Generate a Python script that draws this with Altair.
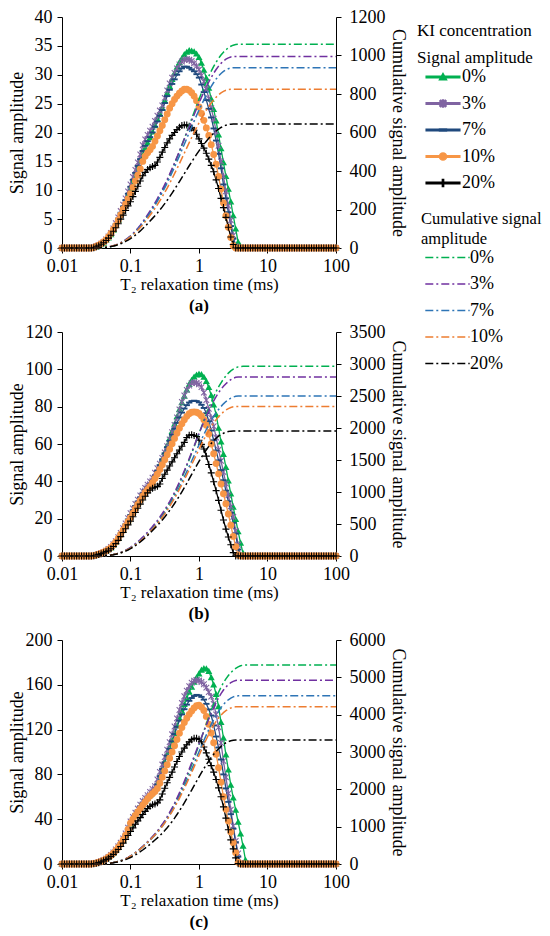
import altair as alt
import pandas as pd

FONT = "Liberation Serif"

# ---------------- categories / colours ----------------
CONCS = ["0%", "3%", "7%", "10%", "20%"]
SIG_COLORS = ["#00B050", "#8064A2", "#1F497D", "#F79646", "#000000"]
CUM_KEYS = ["C0%", "C3%", "C7%", "C10%", "C20%"]
CUM_COLORS = ["#00B050", "#7030A0", "#2E75B6", "#ED7D31", "#000000"]

# T2 sampling grid of the inversion (log spaced, 28 points per decade, 0.01-100 ms)
N_POINTS = 113
T2 = [10 ** (-2 + i / 28) for i in range(N_POINTS)]
FIRST = 13  # index of the first listed (non-zero) value; all earlier points are 0

# ---------------- panel (a) signal amplitudes ----------------
A_0 = [0.1, 0.2, 0.4, 0.6, 0.85, 1.3, 1.75, 2.3, 3.1, 3.9, 4.8, 5.9, 7.0, 8.1, 9.2,
       10.3, 11.5, 12.6, 13.8, 15.1, 16.4, 17.3, 18.2, 19.1, 20.1, 21.2, 22.3, 23.2, 24.2, 25.5,
       26.8, 28.0, 29.2, 30.3, 31.3, 32.1, 32.8, 33.5, 33.9, 34.2, 34.1, 34.0, 33.6, 33.0, 32.0,
       30.8, 29.4, 27.7, 25.8, 24.0, 22.0, 19.6, 17.2, 14.8, 12.4, 10.2, 8.0, 5.6, 3.3, 1.0]
A_3 = [0.1, 0.3, 0.5, 0.75, 1.05, 1.5, 2.0, 2.6, 3.4, 4.3, 5.3, 6.4, 7.5, 8.6, 9.8,
       11.0, 12.3, 13.5, 14.8, 16.2, 17.8, 18.8, 19.6, 20.3, 21.0, 22.0, 22.9, 23.8, 24.7, 26.0,
       27.3, 28.5, 29.5, 30.3, 31.1, 31.8, 32.3, 32.6, 32.7, 32.6, 32.4, 32.0, 31.5, 30.9, 29.9,
       28.8, 27.5, 25.9, 24.2, 22.4, 20.2, 17.7, 15.0, 12.4, 9.8, 7.3, 4.8, 2.2, 0.3]
A_7 = [0.1, 0.3, 0.5, 0.7, 1.0, 1.4, 1.9, 2.5, 3.3, 4.1, 5.1, 6.1, 7.2, 8.3, 9.4,
       10.6, 11.8, 13.0, 14.2, 15.4, 16.8, 17.7, 18.5, 19.2, 20.0, 21.0, 21.9, 22.9, 23.9, 25.1,
       26.3, 27.4, 28.4, 29.2, 30.0, 30.6, 31.1, 31.4, 31.4, 31.2, 30.9, 30.6, 30.1, 29.5, 28.3,
       27.0, 25.6, 24.1, 22.6, 20.7, 18.6, 16.3, 13.8, 11.0, 8.6, 6.2, 3.8, 1.6, 0.2]
A_10 = [0.1, 0.3, 0.5, 0.75, 1.05, 1.4, 1.9, 2.5, 3.2, 3.9, 4.8, 5.7, 6.7, 7.6, 8.5,
        9.4, 10.5, 11.6, 12.6, 13.7, 15.0, 15.9, 16.5, 17.0, 17.6, 18.5, 19.4, 20.3, 21.2, 22.2,
        23.2, 24.2, 25.0, 25.7, 26.3, 26.8, 27.2, 27.5, 27.5, 27.3, 26.9, 26.3, 25.5, 24.4, 23.3,
        22.1, 20.8, 19.5, 17.9, 16.2, 14.5, 12.4, 10.2, 7.8, 5.6, 3.6, 1.8, 0.4]
A_20 = [0.05, 0.2, 0.4, 0.65, 0.9, 1.3, 1.7, 2.2, 2.9, 3.5, 4.2, 5.0, 5.7, 6.5, 7.3,
        8.0, 8.9, 9.8, 10.7, 11.6, 12.5, 13.1, 13.6, 13.9, 14.1, 14.3, 14.9, 15.7, 16.6, 17.4,
        18.2, 18.9, 19.5, 20.0, 20.5, 20.9, 21.2, 21.3, 21.3, 21.1, 20.8, 20.4, 19.7, 18.9, 18.1,
        17.3, 16.4, 15.4, 14.3, 13.2, 11.8, 10.3, 8.6, 7.0, 5.3, 3.6, 1.9, 0.6]
PLATEAU_A = [1058, 995, 937, 825, 644]

# ---------------- panel (b) signal amplitudes ----------------
B_0 = [0.2, 0.5, 0.9, 1.4, 2.0, 2.7, 3.5, 4.4, 5.9, 7.5, 9.5, 11.7, 14.1, 16.5, 19.0,
       21.4, 23.8, 26.1, 28.4, 30.7, 33.0, 34.8, 36.5, 38.3, 40.3, 43.0, 45.8, 48.7, 52.0, 55.5,
       59.2, 63.0, 66.8, 70.6, 74.6, 78.6, 82.2, 85.7, 89.0, 92.0, 94.2, 95.9, 97.0, 97.5, 97.2,
       95.8, 93.5, 90.3, 86.0, 81.0, 75.7, 68.5, 61.2, 54.5, 47.5, 40.3, 33.3, 26.2, 19.6, 13.0,
       6.9, 1.5]
B_3 = [0.2, 0.6, 1.0, 1.5, 2.1, 2.9, 3.8, 4.8, 6.3, 8.0, 10.1, 12.3, 14.9, 17.5, 20.3,
       23.0, 25.5, 27.9, 30.2, 32.5, 34.7, 36.5, 38.2, 40.0, 42.0, 44.6, 47.0, 49.5, 52.5, 55.5,
       58.8, 62.5, 66.3, 70.2, 74.2, 78.5, 82.5, 86.0, 89.0, 91.3, 92.7, 93.0, 92.7, 92.0, 90.5,
       87.5, 83.5, 78.8, 74.0, 69.5, 63.5, 57.0, 51.0, 45.0, 38.8, 32.5, 26.6, 21.0, 13.5, 6.0,
       0.3]
B_7 = [0.2, 0.6, 1.0, 1.5, 2.1, 2.8, 3.7, 4.7, 6.1, 7.8, 9.8, 12.0, 14.5, 17.0, 19.6,
       22.0, 24.4, 26.8, 29.1, 31.3, 33.5, 35.2, 36.7, 38.3, 40.2, 42.8, 45.6, 48.7, 51.8, 55.0,
       58.3, 61.7, 65.0, 68.2, 71.3, 74.2, 76.8, 79.0, 80.8, 82.2, 83.0, 83.2, 83.0, 82.3, 81.0,
       79.3, 76.5, 72.2, 67.2, 62.0, 56.5, 51.2, 46.0, 40.6, 35.0, 29.3, 23.2, 17.8, 12.0, 3.5]
B_10 = [0.2, 0.6, 1.0, 1.5, 2.0, 2.7, 3.5, 4.5, 5.9, 7.5, 9.4, 11.5, 13.8, 16.1, 18.4,
        20.5, 22.9, 25.3, 27.6, 29.8, 32.0, 34.0, 35.6, 37.3, 39.2, 41.5, 43.8, 46.3, 48.9, 51.6,
        54.3, 57.2, 60.1, 63.0, 65.8, 68.5, 70.9, 73.0, 74.8, 76.2, 77.0, 77.2, 77.0, 76.3, 75.0,
        73.0, 70.0, 65.3, 60.0, 54.8, 49.5, 44.0, 38.6, 33.3, 28.0, 22.5, 16.5, 10.5, 5.0, 0.5]
B_20 = [0.15, 0.5, 0.85, 1.25, 1.75, 2.35, 3.1, 3.9, 5.1, 6.6, 8.4, 10.4, 12.6, 14.6, 16.7,
        18.7, 21.0, 23.3, 25.6, 27.8, 30.0, 32.0, 33.8, 35.3, 36.3, 36.8, 37.3, 38.6, 41.5, 43.8,
        46.0, 48.2, 50.4, 52.6, 54.8, 56.8, 58.8, 60.9, 63.5, 64.7, 65.0, 64.6, 64.0, 62.0, 59.8,
        57.3, 53.5, 49.0, 44.5, 39.8, 35.0, 29.8, 24.5, 19.3, 14.4, 10.2, 6.0, 1.8]
PLATEAU_B = [2964, 2798, 2500, 2337, 1953]

# ---------------- panel (c) signal amplitudes ----------------
C_0 = [0.4, 0.9, 1.6, 2.4, 3.4, 4.6, 6.1, 7.8, 9.9, 12.3, 15.0, 18.1, 21.7, 25.8, 30.6,
       35.8, 40.0, 43.8, 47.4, 50.8, 53.9, 56.6, 59.1, 61.7, 64.2, 66.6, 71.5, 77.8, 84.2, 90.7,
       97.1, 103.5, 110.0, 116.6, 123.3, 130.0, 136.5, 142.5, 148.0, 153.5, 158.0, 162.3, 166.3, 169.8, 173.2,
       174.5, 174.3, 172.0, 166.5, 160.0, 151.5, 140.5, 126.5, 112.5, 97.5, 84.0, 70.5, 59.0, 48.0, 37.5,
       27.0, 16.0, 3.5]
C_3 = [0.4, 1.0, 1.7, 2.6, 3.6, 4.8, 6.4, 8.2, 10.4, 13.0, 15.8, 19.0, 22.8, 27.2, 32.5,
       38.0, 42.0, 45.8, 49.5, 53.0, 56.2, 59.0, 61.5, 64.3, 67.0, 69.5, 75.5, 82.3, 88.8, 95.5,
       102.0, 108.8, 115.8, 122.8, 130.0, 137.5, 143.8, 149.8, 154.8, 158.8, 161.8, 163.6, 164.3, 163.8, 162.5,
       160.5, 157.5, 153.5, 149.5, 143.0, 133.5, 122.0, 108.0, 92.0, 77.5, 63.0, 48.5, 34.0, 20.5, 9.5,
       1.0]
C_7 = [0.4, 0.9, 1.6, 2.5, 3.5, 4.7, 6.2, 8.0, 10.1, 12.6, 15.3, 18.4, 22.0, 26.2, 31.0,
       36.5, 40.5, 44.2, 47.8, 51.2, 54.3, 57.0, 59.3, 61.4, 63.2, 65.2, 71.0, 78.5, 84.8, 90.5,
       96.7, 102.8, 109.5, 116.0, 122.5, 128.0, 133.5, 138.2, 142.3, 145.7, 148.2, 150.0, 151.0, 150.6, 149.2,
       146.8, 143.0, 138.0, 132.6, 123.7, 113.8, 104.0, 93.3, 80.0, 67.5, 55.5, 44.5, 31.5, 19.5, 6.5,
       0.3]
C_10 = [0.4, 0.9, 1.5, 2.3, 3.3, 4.5, 6.0, 7.7, 9.7, 12.0, 14.7, 17.8, 21.4, 25.6, 30.8,
        36.5, 40.0, 43.3, 46.4, 49.4, 52.4, 55.4, 58.3, 60.7, 62.8, 64.8, 67.5, 72.2, 77.5, 83.0,
        88.7, 94.4, 100.0, 105.5, 111.2, 116.7, 121.8, 126.4, 130.2, 133.6, 136.6, 139.3, 141.3, 141.8, 140.2,
        137.0, 131.8, 124.8, 117.0, 108.3, 98.0, 86.0, 73.0, 60.0, 48.8, 38.5, 28.5, 19.0, 10.0, 1.5]
C_20 = [0.3, 0.7, 1.2, 1.9, 2.8, 3.9, 5.2, 6.8, 8.6, 10.7, 13.0, 15.6, 18.6, 21.9, 25.4,
        29.0, 32.3, 35.5, 38.5, 41.4, 44.2, 47.0, 49.5, 51.5, 52.8, 53.6, 54.6, 57.3, 62.5, 67.6,
        72.5, 77.3, 82.0, 86.6, 91.5, 96.0, 100.0, 103.5, 106.5, 109.0, 111.0, 112.2, 112.2, 111.3, 109.0,
        104.5, 99.2, 93.5, 87.8, 82.0, 75.5, 68.0, 60.0, 51.0, 41.0, 30.6, 21.5, 13.5, 5.5, 0.3]
PLATEAU_C = [5330, 4925, 4505, 4212, 3322]

# axis ticks
X_TICKS = [0.01, 0.1, 1, 10, 100]

# ---------------- marker shapes ----------------
MARKERS = {
    "0%": "M0,-1L1,0.75L-1,0.75Z",
    "3%": ("M-0.15,-1H0.15V1H-0.15Z M-0.69,-0.91L0.91,0.69L0.69,0.91L-0.91,-0.69Z "
           "M-0.91,0.69L0.69,-0.91L0.91,-0.69L-0.69,0.91Z"),
    "7%": "M-1,-0.3H1V0.3H-1Z",
    "10%": "circle",
    "20%": "M-1,-0.16H-0.16V-1H0.16V-0.16H1V0.16H0.16V1H-0.16V0.16H-1Z",
}
MARK_SIZE = {"0%": 49, "3%": 49, "7%": 40, "10%": 48, "20%": 49}

LINE_BAR = "M-1.4,-0.06H1.4V0.06H-1.4Z "
LEG_SHAPES = [
    LINE_BAR + "M0,-0.29L0.29,0.23L-0.29,0.23Z",
    LINE_BAR + ("M-0.045,-0.29H0.045V0.29H-0.045Z M-0.2,-0.264L0.264,0.2L0.2,0.264L-0.264,-0.2Z "
                "M-0.264,0.2L0.2,-0.264L0.264,-0.2L-0.2,0.264Z"),
    LINE_BAR + "M-0.29,-0.09H0.29V0.09H-0.29Z",
    LINE_BAR + "M0.3,0A0.3,0.3 0 1,1 -0.3,0A0.3,0.3 0 1,1 0.3,0Z",
    LINE_BAR + "M-0.29,-0.05H-0.05V-0.29H0.05V-0.05H0.29V0.05H0.05V0.29H-0.05V0.05H-0.29Z",
]
CUM_SYMBOL = "M-1.85,0H1.85"

# legend positions are relative to the top-left corner of panel (a)'s plot area
SIG_LEGEND = alt.Legend(
    title=["KI concentration", "Signal amplitude"], orient="none", legendX=355, legendY=6,
    titleFontSize=17, titleLineHeight=27, titlePadding=-3, labelFontSize=18,
    symbolSize=576, symbolOffset=13, labelOffset=6, rowPadding=4.5, padding=0,
)
CUM_LEGEND = alt.Legend(
    title=["Cumulative signal", "amplitude"], orient="none", legendX=359, legendY=194,
    titleFontSize=16.5, titleLineHeight=20, titlePadding=-3, labelFontSize=18,
    symbolType=CUM_SYMBOL, symbolSize=576, symbolStrokeWidth=1.5, symbolDash=[8, 3, 2, 3],
    symbolOffset=13.5, labelOffset=9.5, rowPadding=4.5, padding=0,
    labelExpr="replace(datum.label, 'C', '')",
)


def make_panel(sig, plateau, ymax, ystep, cmax, cstep, h, tag):
    rows = []
    for c, vals, p in zip(CONCS, sig, plateau):
        full = [0.0] * FIRST + vals + [0.0] * (N_POINTS - FIRST - len(vals))
        for t, v in zip(T2, full):
            rows.append({"t": t, "conc": c, "signal": v, "plateau": p})
    df = pd.DataFrame(rows)
    base = alt.Chart(df)
    x = alt.X("t:Q", scale=alt.Scale(type="log", domain=[0.01, 100], nice=False),
              axis=alt.Axis(values=X_TICKS, format="~g", title="T₂  relaxation time (ms)",
                            labelPadding=4, titlePadding=1, titleFontSize=17))
    y = alt.Y("signal:Q", scale=alt.Scale(domain=[0, ymax], nice=False),
              axis=alt.Axis(values=list(range(0, ymax + 1, ystep)), format="d",
                            title="Signal amplitude", orient="left", labelPadding=5, titleX=-36))
    color = alt.Color("conc:N", scale=alt.Scale(domain=CONCS, range=SIG_COLORS), legend=SIG_LEGEND)
    lines = base.mark_line(strokeWidth=1.3).encode(x=x, y=y, color=color)
    pts = []
    for c, col in zip(CONCS, SIG_COLORS):
        pts.append(base.transform_filter(alt.datum.conc == c)
                   .mark_point(shape=MARKERS[c], filled=True, size=MARK_SIZE[c], color=col, opacity=1)
                   .encode(x=x, y=y))
    leg = (base.transform_filter("false")
           .mark_point(filled=True, size=576, opacity=1)
           .encode(x=x, y=y, color=color,
                   shape=alt.Shape("conc:N", scale=alt.Scale(domain=CONCS, range=LEG_SHAPES),
                                   legend=SIG_LEGEND)))
    sig_layer = alt.layer(lines, *pts, leg)
    cum = (base
           .transform_window(cs="sum(signal)", groupby=["conc"], sort=[alt.SortField("t", order="ascending")])
           .transform_joinaggregate(tot="sum(signal)", groupby=["conc"])
           .transform_calculate(cum="datum.cs / datum.tot * datum.plateau", cc="'C' + datum.conc")
           .mark_line(strokeWidth=1.5, strokeDash=[8, 3, 2, 3])
           .encode(x=x,
                   y=alt.Y("cum:Q", scale=alt.Scale(domain=[0, cmax], nice=False),
                           axis=alt.Axis(values=list(range(0, cmax + 1, cstep)), format="d",
                                         title="Cumulative signal amplitude", orient="right",
                                         labelPadding=8, titlePadding=3)),
                   stroke=alt.Stroke("cc:N", scale=alt.Scale(domain=CUM_KEYS, range=CUM_COLORS),
                                     legend=CUM_LEGEND)))
    return (alt.layer(sig_layer, cum)
            .resolve_scale(y="independent")
            .properties(width=274, height=h,
                        title=alt.TitleParams(tag, orient="bottom", fontWeight="bold", fontSize=17,
                                              offset=6, anchor="middle", frame="group")))


pa = make_panel([A_0, A_3, A_7, A_10, A_20], PLATEAU_A, 40, 5, 1200, 200, 231, "(a)")
pb = make_panel([B_0, B_3, B_7, B_10, B_20], PLATEAU_B, 120, 20, 3500, 500, 224, "(b)")
pc = make_panel([C_0, C_3, C_7, C_10, C_20], PLATEAU_C, 200, 40, 6000, 1000, 224, "(c)")

chart = (alt.vconcat(pa, pb, pc, spacing=9)
         .properties(padding={"left": 0, "top": 0, "right": 0, "bottom": 0})
         .configure(font=FONT)
         .configure_view(stroke=None)
         .configure_axis(labelFont=FONT, titleFont=FONT, labelFontSize=18, titleFontSize=18,
                         titleFontWeight="normal", labelColor="#000", titleColor="#000",
                         domainColor="#000", tickColor="#000", tickSize=5, grid=False,
                         labelFlush=False)
         .configure_legend(labelFont=FONT, titleFont=FONT, titleFontWeight="normal",
                           labelColor="#000", titleColor="#000")
         .configure_title(font=FONT, color="#000"))

chart.save("out.html", embed_options={"renderer": "svg", "actions": False})
